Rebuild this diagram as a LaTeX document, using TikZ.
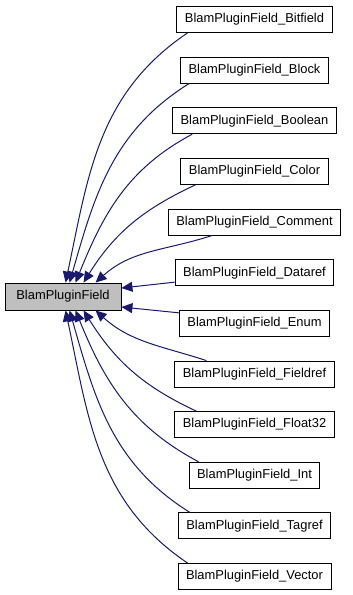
\documentclass[tikz,border=0pt]{standalone}
\usepackage{fontspec}
\setmainfont{Liberation Sans}
\usetikzlibrary{positioning, arrows.meta}
\definecolor{edgeblue}{HTML}{191970}
\definecolor{basegray}{HTML}{BFBFBF}

\begin{document}
\begin{tikzpicture}[
            x=1pt, y=1pt,
            every node/.style={font=\fontsize{12.9}{15}\selectfont},
            box/.style={draw, line width=0.9pt, fill=white, inner xsep=8pt, minimum height=26pt, align=center},
            base/.style={box, fill=basegray, minimum width=116pt, minimum height=27pt},
            arrow/.style={{Triangle[length=11pt, width=10pt, fill=edgeblue]}-, draw=edgeblue, line width=1pt}
      ]
      \useasboundingbox (0,0) rectangle (353,-595);

      % Base class
      \node[base] (field) at (63,-296.5) {BlamPluginField};

      % Derived classes
      \node[box] (bitfield) at (254.5,-19.5)  {BlamPluginField\_Bitfield};
      \node[box] (block)    at (254.5,-70.1)  {BlamPluginField\_Block};
      \node[box] (boolean)  at (254.5,-120.8) {BlamPluginField\_Boolean};
      \node[box] (color)    at (254.5,-171.4) {BlamPluginField\_Color};
      \node[box] (comment)  at (254.5,-222.1) {BlamPluginField\_Comment};
      \node[box] (dataref)  at (254.5,-272.7) {BlamPluginField\_Dataref};
      \node[box] (enum)     at (254.5,-323.3) {BlamPluginField\_Enum};
      \node[box] (fieldref) at (254.5,-374.0) {BlamPluginField\_Fieldref};
      \node[box] (float)    at (254.5,-424.6) {BlamPluginField\_Float32};
      \node[box] (int)      at (254.5,-475.3) {BlamPluginField\_Int};
      \node[box] (tagref)   at (254.5,-525.9) {BlamPluginField\_Tagref};
      \node[box] (vector)   at (254.5,-576.5) {BlamPluginField\_Vector};

      % Upper edges
      \draw[arrow] ([xshift=61pt]field.north west) to[out=78, in=214] ([xshift=11pt]bitfield.south west);
      \draw[arrow] ([xshift=65pt]field.north west) to[out=74, in=212] ([xshift=9pt]block.south west);
      \draw[arrow] ([xshift=71pt]field.north west) to[out=68, in=208] ([xshift=20pt]boolean.south west);
      \draw[arrow] ([xshift=79pt]field.north west) to[out=58, in=205] ([xshift=15pt]color.south west);
      \draw[arrow] ([xshift=91pt]field.north west) to[out=42, in=198] ([xshift=44pt]comment.south west);

      % Side edges
      \draw[arrow] ([yshift=8.5pt]field.east) -- ([yshift=4pt]dataref.south west);
      \draw[arrow] ([yshift=-10.5pt]field.east) -- ([yshift=-3pt]enum.north west);

      % Lower edges
      \draw[arrow] ([xshift=91pt]field.south west) to[out=-42, in=162] ([xshift=32pt]fieldref.north west);
      \draw[arrow] ([xshift=79pt]field.south west) to[out=-58, in=155] ([xshift=22pt]float.north west);
      \draw[arrow] ([xshift=71pt]field.south west) to[out=-68, in=152] ([xshift=10pt]int.north west);
      \draw[arrow] ([xshift=65pt]field.south west) to[out=-74, in=148] ([xshift=12pt]tagref.north west);
      \draw[arrow] ([xshift=61pt]field.south west) to[out=-78, in=146] ([xshift=10pt]vector.north west);
\end{tikzpicture}
\end{document}
